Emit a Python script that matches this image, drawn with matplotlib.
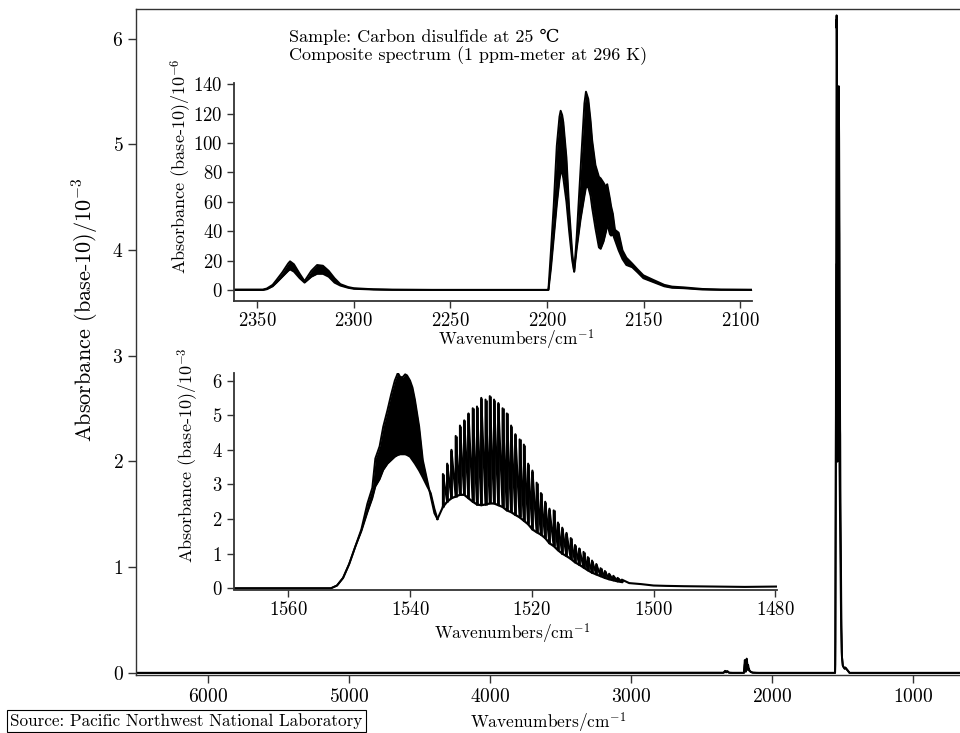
import numpy as np
import matplotlib
matplotlib.use("Agg")
import matplotlib.pyplot as plt

plt.rcParams["font.family"] = ["cmr10", "DejaVu Serif"]
plt.rcParams["mathtext.fontset"] = "cm"
plt.rcParams["axes.unicode_minus"] = False
plt.rcParams["axes.formatter.use_mathtext"] = True

# band near 2200 cm-1, values in 1e-6 absorbance (top / bottom of the dense line structure)
b1_wn = [2362, 2347, 2345, 2342, 2340, 2337, 2334, 2333, 2331, 2328,
         2325.5, 2322, 2319, 2316, 2313, 2310, 2307, 2303, 2300, 2290,
         2280, 2260, 2200, 2199.3, 2198, 2196.6, 2195, 2193.6, 2193, 2192.2,
         2191.6, 2190, 2188.6, 2187, 2186, 2184.7, 2182.7, 2180.7, 2179.9, 2178.7,
         2177.5, 2176.7, 2175, 2173.2, 2172.3, 2170.8, 2169.5, 2168.9, 2167.5, 2166.9,
         2166, 2164.9, 2163, 2161, 2159, 2156, 2153.2, 2150.2, 2145.3, 2139.4,
         2135.4, 2129.5, 2119.7, 2110, 2094]
b1_top = [0.3, 0.3, 1.0, 3.5, 6.8, 12, 18, 19.5, 17.5, 11,
          6, 13, 17, 16.5, 13, 8, 4, 2, 1.2, 0.5,
          0.2, 0.1, 0.1, 0.5, 27, 57, 98, 118, 122, 119,
          114, 90, 55, 25, 12.5, 36, 82, 127, 135, 130,
          115, 102, 85, 77, 76, 73, 70, 72, 62, 57,
          52, 41, 39, 27, 22, 18, 14, 10, 7, 3.5,
          2.3, 1.8, 0.7, 0.3, 0.2]
b1_bot = [0, 0, 0.5, 2.5, 5, 9, 13, 14, 12.5, 8,
          5, 9, 11, 11, 9, 5, 3, 1.5, 0.8, 0.3,
          0.1, 0, 0, 0, 15, 35, 58, 75, 80, 80,
          76, 60, 40, 20, 12.5, 28, 48, 64, 70, 70,
          64, 56, 42, 29, 28, 33, 40, 45, 38, 37,
          38, 34, 27, 21, 17, 15.5, 12, 8, 5.5, 2.5,
          1.5, 1.2, 0.3, 0.1, 0]

# strong band near 1535 cm-1, values in 1e-3 absorbance
r_wn = [1569, 1553.0, 1552.0, 1551.0, 1550.0, 1549.0, 1548.0, 1547.0, 1546.2, 1545.7,
        1545.0, 1544.4, 1543.7, 1543.1, 1542.5, 1542.0, 1541.6, 1541.2, 1540.8, 1540.5,
        1540.0, 1539.6, 1539.2, 1538.5, 1537.9, 1537.2, 1536.6, 1536.0, 1535.5]
r_top = [0.0, 0.0, 0.08, 0.3, 0.7, 1.2, 1.7, 2.45, 2.9, 3.75,
         4.1, 4.67, 5.15, 5.6, 6.0, 6.22, 6.1, 6.1, 6.18, 6.15,
         6.0, 5.8, 5.45, 4.67, 3.7, 3.13, 2.65, 2.17, 2.0]
r_bot = [0.0, 0.0, 0.08, 0.3, 0.7, 1.2, 1.65, 2.2, 2.6, 2.94,
         3.15, 3.42, 3.6, 3.7, 3.8, 3.85, 3.87, 3.87, 3.87, 3.85,
         3.8, 3.7, 3.6, 3.4, 3.2, 2.95, 2.75, 2.3, 2.0]

p_wn = [1534.6, 1533.9, 1533.2, 1532.5, 1531.8, 1531.1, 1530.4, 1529.7, 1529.0, 1528.3,
        1527.6, 1526.9, 1526.2, 1525.5, 1524.8, 1524.1, 1523.4, 1522.7, 1522.0, 1521.3,
        1520.6, 1519.9, 1519.2, 1518.5, 1517.8, 1517.1, 1516.4, 1515.7, 1515.0, 1514.3,
        1513.6, 1512.9, 1512.2, 1511.5, 1510.8, 1510.1, 1509.4, 1508.7, 1508.0, 1507.3,
        1506.6, 1505.9, 1505.2]
p_top = [3.3, 3.6, 4.0, 4.4, 4.7, 4.85, 5.05, 5.2, 5.25, 5.5,
         5.45, 5.55, 5.45, 5.35, 5.2, 5.05, 4.7, 4.45, 4.3, 4.15,
         3.6, 3.4, 3.05, 2.75, 2.5, 2.3, 2.25, 1.9, 1.75, 1.6,
         1.45, 1.25, 1.15, 1.05, 0.9, 0.8, 0.7, 0.58, 0.5, 0.42,
         0.36, 0.3, 0.25]
p_bot = [2.35, 2.5, 2.6, 2.65, 2.7, 2.7, 2.6, 2.5, 2.42, 2.4,
         2.42, 2.45, 2.45, 2.4, 2.35, 2.25, 2.2, 2.12, 2.05, 1.95,
         1.85, 1.7, 1.62, 1.55, 1.45, 1.3, 1.22, 1.1, 1.0, 0.93,
         0.85, 0.75, 0.68, 0.6, 0.52, 0.45, 0.4, 0.35, 0.3, 0.26,
         0.23, 0.2, 0.18]

tail_wn = [1504.0, 1502.0, 1500.0, 1498.0, 1495.0, 1490.0, 1485.0, 1479.8]
tail_val = [0.15, 0.12, 0.08, 0.07, 0.06, 0.05, 0.04, 0.05]

main_ends = [6510, 1450, 667]

ink = "black"
spine_col = "#333333"

fig = plt.figure(figsize=(9.6, 7.33), dpi=100)

# ---- main axes ----
ax = fig.add_axes([136 / 960, 58 / 733, 824 / 960, 666 / 733])
b1 = np.array(b1_wn)
all_wn = np.concatenate([[main_ends[0]], b1, r_wn, p_wn, tail_wn, main_ends[1:]])
all_top = np.concatenate([[0], np.array(b1_top) / 1000, r_top, p_top, tail_val, [0, 0]])
all_bot = np.concatenate([[0], np.array(b1_bot) / 1000, r_bot, p_bot, tail_val, [0, 0]])
ax.fill_between(all_wn, all_bot, all_top, color=ink, lw=0)
ax.plot(all_wn, all_top, color=ink, lw=1.4)
ax.plot(all_wn, all_bot, color=ink, lw=1.4)
ax.set_xlim(6510, 667)
ax.set_ylim(-0.02, 6.28)
ax.set_xticks([6000, 5000, 4000, 3000, 2000, 1000])
ax.set_yticks([0, 1, 2, 3, 4, 5, 6])
ax.spines["right"].set_visible(False)
for s in ax.spines.values():
    s.set_linewidth(1.0)
    s.set_color(spine_col)
ax.tick_params(direction="out", length=6, width=1, labelsize=14, pad=3, color=spine_col)
ax.set_xlabel("Wavenumbers/cm$^{-1}$", fontsize=12.5)
ax.set_ylabel("Absorbance (base-10)/10$^{-3}$", fontsize=16)
ax.xaxis.set_label_coords(0.5, -0.053)
ax.yaxis.set_label_coords(-0.043, 0.548)

# ---- inset: 2100-2360 ----
ax1 = fig.add_axes([234 / 960, (733 - 300.7) / 733, 518 / 960, 217.4 / 733])
ax1.set_facecolor("none")
ax1.fill_between(b1_wn, b1_bot, b1_top, color=ink, lw=0)
ax1.plot(b1_wn, b1_top, color=ink, lw=1.4)
ax1.plot(b1_wn, b1_bot, color=ink, lw=1.4)
ax1.set_xlim(2362, 2094)
ax1.set_ylim(-7.3, 140.7)
ax1.set_xticks([2350, 2300, 2250, 2200, 2150, 2100])
ax1.set_yticks([0, 20, 40, 60, 80, 100, 120, 140])
ax1.set_xlabel("Wavenumbers/cm$^{-1}$", fontsize=12.5)
ax1.set_ylabel("Absorbance (base-10)/10$^{-6}$", fontsize=13)
ax1.xaxis.set_label_coords(0.544, -0.126)
ax1.yaxis.set_label_coords(-0.078, 0.62)

# ---- inset: 1480-1569 ----
ax2 = fig.add_axes([233.5 / 960, (733 - 589.5) / 733, 543 / 960, 216.2 / 733])
ax2.set_facecolor("none")
ax2.fill_between(r_wn, r_bot, r_top, color=ink, lw=0)
ax2.plot(r_wn, r_top, color=ink, lw=1.4)
ax2.plot(r_wn, r_bot, color=ink, lw=1.4)
# resolved rotational lines: up stroke at each line, down stroke to the next line's base
zx, zy = [r_wn[-1]], [r_bot[-1]]
for w, lo, hi in zip(p_wn, p_bot, p_top):
    zx += [w, w]
    zy += [lo, hi]
ax2.plot(zx + tail_wn, zy + tail_val, color=ink, lw=1.5)
ax2.vlines(p_wn, p_bot, p_top, color=ink, lw=2.0)
ax2.plot(p_wn, p_bot, color=ink, lw=1.6)
ax2.set_xlim(1569, 1479.8)
ax2.set_ylim(-0.035, 6.21)
ax2.set_xticks([1560, 1540, 1520, 1500, 1480])
ax2.set_yticks([0, 1, 2, 3, 4, 5, 6])
ax2.set_xlabel("Wavenumbers/cm$^{-1}$", fontsize=12.5)
ax2.set_ylabel("Absorbance (base-10)/10$^{-3}$", fontsize=13)
ax2.xaxis.set_label_coords(0.513, -0.15)
ax2.yaxis.set_label_coords(-0.060, 0.62)

for a in (ax1, ax2):
    a.spines["top"].set_visible(False)
    a.spines["right"].set_visible(False)
    for s in a.spines.values():
        s.set_linewidth(1.3)
        s.set_color(spine_col)
    a.tick_params(direction="out", length=5, width=1, labelsize=13.5, pad=3, color=spine_col)

fig.text(289 / 960, 1 - 37 / 733, "Sample: Carbon disulfide at 25 \u2103",
         fontsize=13, va="center", ha="left")
fig.text(289 / 960, 1 - 56 / 733, "Composite spectrum (1 ppm-meter at 296 K)",
         fontsize=13, va="center", ha="left")
fig.text(10 / 960, 1 - 721 / 733, "Source: Pacific Northwest National Laboratory",
         fontsize=12.3, va="center", ha="left",
         bbox=dict(boxstyle="square,pad=0.2", fc="white", ec="black", lw=0.8))

fig.savefig("out.png", dpi=100)
